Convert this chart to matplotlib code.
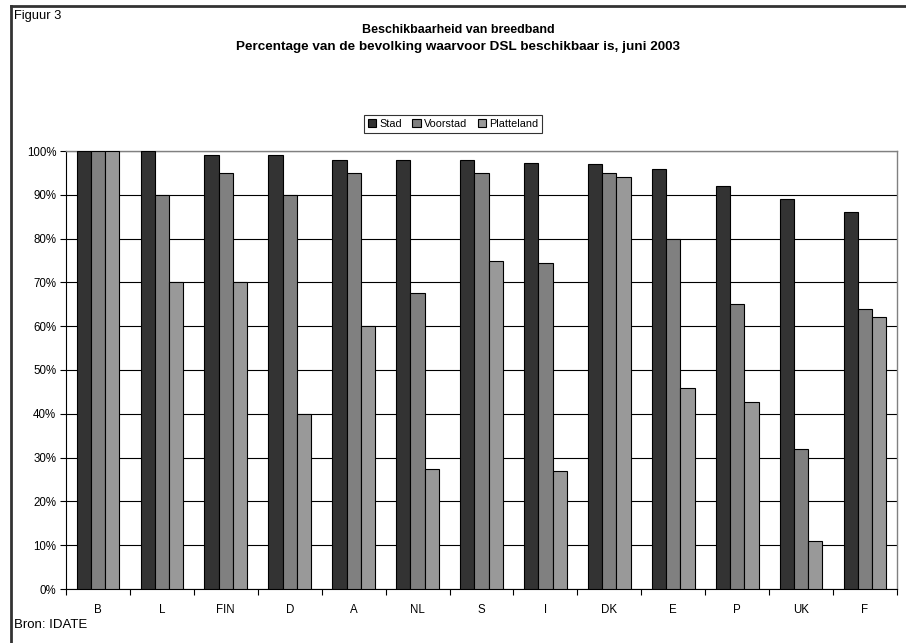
import matplotlib.pyplot as plt
from matplotlib.lines import Line2D
import numpy as np

plt.rcParams['font.family'] = ['Liberation Sans', 'DejaVu Sans']

# data
landen = ['B', 'L', 'FIN', 'D', 'A', 'NL', 'S', 'I', 'DK', 'E', 'P', 'UK', 'F']
stad = [100, 100, 99, 99, 98, 98, 98, 97.2, 97, 96, 92, 89, 86]
voorstad = [100, 90, 95, 90, 95, 67.5, 95, 74.5, 95, 80, 65, 32, 64]
platteland = [100, 70, 70, 40, 60, 27.5, 75, 27, 94, 46, 42.7, 11, 62]

reeksen = ['Stad', 'Voorstad', 'Platteland']
kleuren = ['#333333', '#808080', '#999999']

fig = plt.figure(figsize=(9.06, 6.43), dpi=100)
ax = fig.add_axes([66/906, 1-589/643, (897-66)/906, (589-151)/643])

x = np.arange(len(landen))
w = 0.223
for i, (vals, naam) in enumerate(zip([stad, voorstad, platteland], reeksen)):
    ax.bar(x + (i-1)*w, vals, width=w, color=kleuren[i], edgecolor='black',
           linewidth=0.8, label=naam, zorder=3)

ax.set_xlim(-0.5, len(landen)-0.5)
ax.set_ylim(0, 100)
ax.set_yticks(np.arange(0, 101, 10))
ax.set_yticklabels(['%d%%' % v for v in range(0, 101, 10)])
ax.set_xticks(x)
ax.set_xticklabels(landen)
ax.set_xticks(np.arange(-0.5, len(landen), 1), minor=True)
ax.tick_params(axis='x', which='major', length=0, pad=11, labelsize=8.3)
ax.tick_params(axis='x', which='minor', length=4, width=0.8, direction='out')
ax.tick_params(axis='y', length=4, width=0.8, direction='out', labelsize=8.3, pad=3)
ax.grid(axis='y', color='black', linewidth=0.8, zorder=0)
for s in ['top', 'right']:
    ax.spines[s].set_color('#808080')
    ax.spines[s].set_linewidth(1)
for s in ['left', 'bottom']:
    ax.spines[s].set_color('black')
    ax.spines[s].set_linewidth(0.8)

leg = fig.legend(loc='center', bbox_to_anchor=(453/906, 1-124/643), ncol=3,
                 fontsize=7.8, frameon=True, fancybox=False, edgecolor='black',
                 handlelength=0.75, handleheight=0.75, handletextpad=0.3,
                 columnspacing=1.0, borderpad=0.35)
leg.get_frame().set_linewidth(0.8)

fig.text(458/906, 1-30/643, 'Beschikbaarheid van breedband', ha='center', va='center',
         fontsize=9, fontweight='bold')
fig.text(458/906, 1-47/643, 'Percentage van de bevolking waarvoor DSL beschikbaar is, juni 2003',
         ha='center', va='center', fontsize=9.7, fontweight='bold')
fig.text(14/906, 1-16/643, 'Figuur 3', ha='left', va='center', fontsize=9.3)
fig.text(14/906, 1-625/643, 'Bron: IDATE', ha='left', va='center', fontsize=9.5)

# document frame
fig.add_artist(Line2D([11/906, 1], [1-6/643, 1-6/643], color='#333333', linewidth=2,
                      transform=fig.transFigure))
fig.add_artist(Line2D([11/906, 11/906], [0, 1-6/643], color='#333333', linewidth=2,
                      transform=fig.transFigure))

fig.savefig('out.png', dpi=100)
